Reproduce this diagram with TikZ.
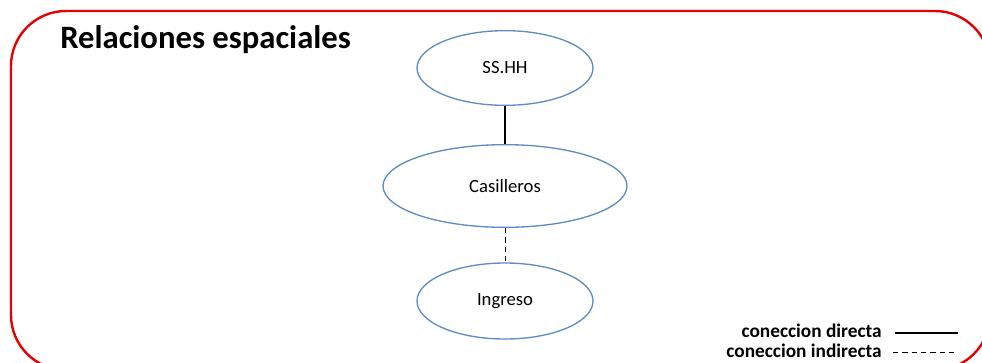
\documentclass[tikz,border=0pt]{standalone}
\usepackage{fontspec}
\setmainfont{Carlito}
\usetikzlibrary{positioning, shapes.geometric}
\definecolor{frame}{RGB}{230,0,0}
\definecolor{oval}{RGB}{96,140,196}

\begin{document}
\begin{tikzpicture}[
    x=0.75pt, y=-0.75pt,
    space/.style={ellipse, draw=oval, line width=1pt, minimum width=132pt,
                  minimum height=56pt, inner sep=0pt, font=\fontsize{14}{16}\selectfont},
    direct/.style={line width=1.6pt},
    indirect/.style={dash pattern=on 4pt off 3pt, line width=0.7pt},
    legend/.style={font=\bfseries\fontsize{14.5}{16}\selectfont, anchor=base east, inner sep=0pt}
  ]
  \useasboundingbox (0,0) rectangle (982,362);
  \fill[white] (0,0) rectangle (982,362);
  % Frame
  \begin{scope}
    \clip (0,0) rectangle (982,362);
    \draw[frame, line width=1.8pt, rounded corners=55*0.75pt] (11,11) rectangle (990,370);
  \end{scope}
  \node[font=\bfseries\fontsize{24.5}{28}\selectfont, anchor=base west, inner sep=0pt] (title) at (60,48) {Relaciones espaciales};

  % Spaces
  \node[space] (sshh) at (505,68) {SS.HH};
  \node[space, minimum width=183pt, minimum height=62pt] (casilleros) at (505,186) {Casilleros};
  \node[space, minimum height=57pt] (ingreso) at (505,301) {Ingreso};

  \draw[direct] (sshh.south) -- (casilleros.north);
  \draw[indirect] (casilleros.south) -- (ingreso.north);

  % Legend
  \node[legend] (ldirect) at (882,337) {coneccion directa};
  \node[legend] (lindirect) at (882,357) {coneccion indirecta};
  \coordinate (d1) at (895,333);
  \coordinate (d2) at (958,333);
  \coordinate (i1) at (893,352);
  \coordinate (i2) at (956,352);
  \draw[direct] (d1) -- (d2);
  \draw[indirect] (i1) -- (i2);
\end{tikzpicture}
\end{document}
